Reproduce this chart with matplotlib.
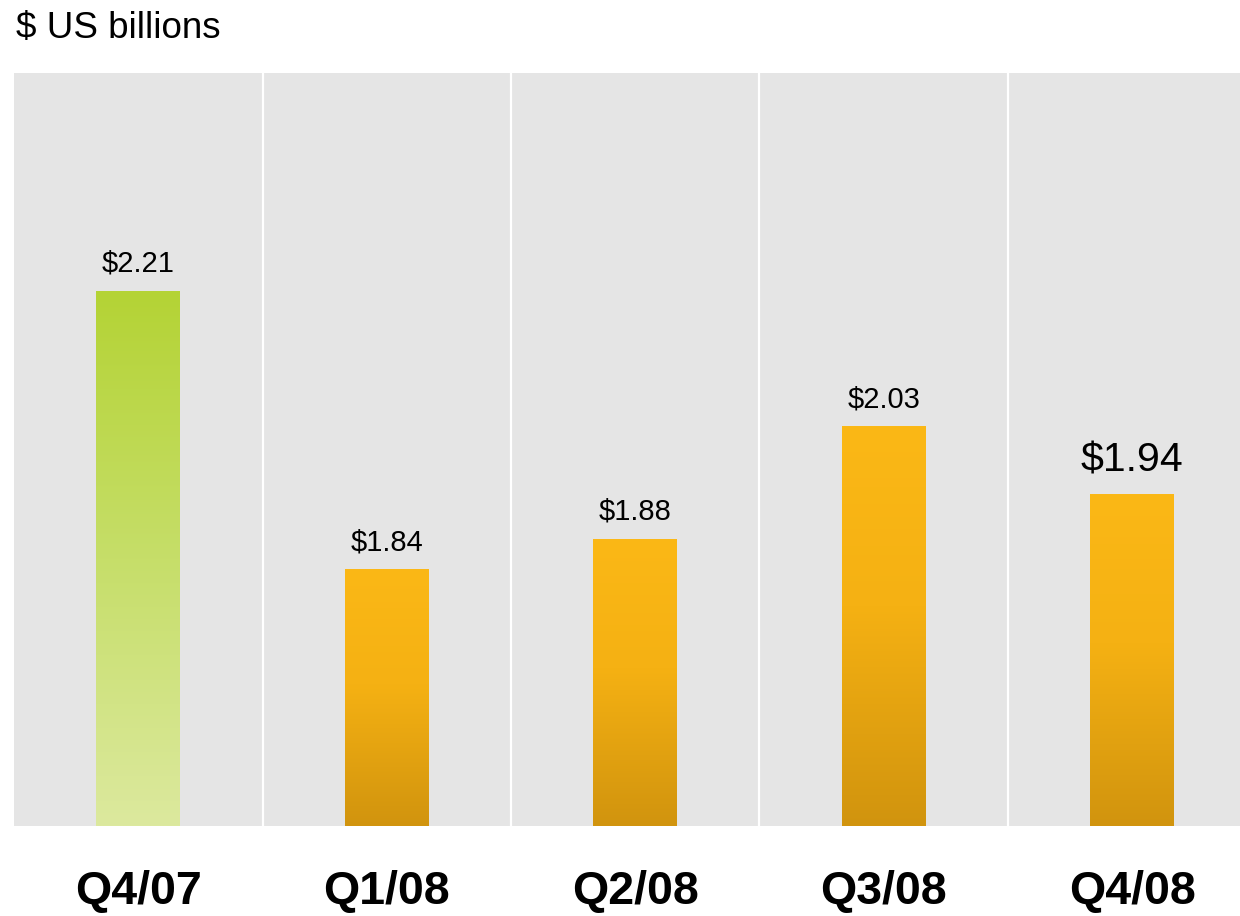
import numpy as np
import matplotlib
matplotlib.use("Agg")
import matplotlib.pyplot as plt
from matplotlib.colors import LinearSegmentedColormap

plt.rcParams['font.family'] = ['Liberation Sans', 'DejaVu Sans']

# data
quarters = ['Q4/07', 'Q1/08', 'Q2/08', 'Q3/08', 'Q4/08']
values = [2.21, 1.84, 1.88, 2.03, 1.94]
labels = ['$2.21', '$1.84', '$1.88', '$2.03', '$1.94']

green = LinearSegmentedColormap.from_list('g', ['#dce99e', '#c6de69', '#b4d335'])
orange = LinearSegmentedColormap.from_list('o', [(0, '#d1940e'), (0.55, '#f5b113'), (1, '#fbb816')])

fig = plt.figure(figsize=(12.4, 9.16), dpi=100)
ax = fig.add_axes([14 / 1240, 90 / 916, 1242.5 / 1240, 753 / 916])
ax.set_facecolor('#e5e5e5')

ymin, ymax = 1.5, 2.5
w = 0.338
grad = np.linspace(0, 1, 256).reshape(-1, 1)
for i, v in enumerate(values):
    cmap = green if i == 0 else orange
    ax.imshow(grad, cmap=cmap, origin='lower', aspect='auto',
              extent=[i - w / 2, i + w / 2, ymin, v], zorder=2)
    big = i == len(values) - 1
    ax.annotate(labels[i], (i, v), xytext=(0, 11 if big else 10),
                textcoords='offset points', ha='center', va='bottom',
                fontsize=29.5 if big else 21, color='black')

# white column separators
for b in range(1, len(values)):
    ax.axvline(b - 0.5, color='white', lw=1.6, zorder=1)

ax.set_xlim(-0.5, len(values) - 0.5)
ax.set_ylim(ymin, ymax)
ax.set_yticks([])
ax.set_xticks(range(len(values)))
ax.set_xticklabels(quarters, fontsize=33.5, fontweight='bold')
ax.tick_params(axis='x', length=0, pad=32)
for s in ax.spines.values():
    s.set_visible(False)

fig.text(16 / 1240, 1 - 38 / 916, '$ US billions', fontsize=26.5, va='baseline', ha='left')

fig.savefig('out.png', dpi=100)
